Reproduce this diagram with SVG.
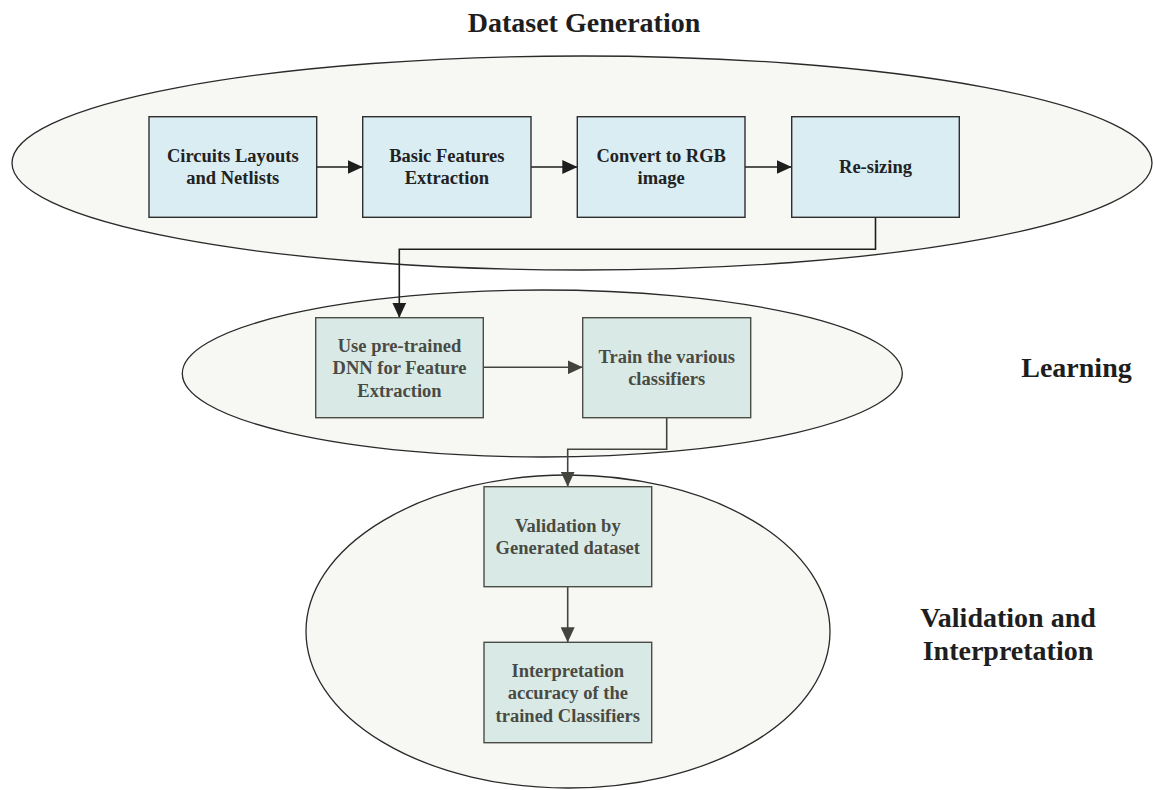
<svg xmlns="http://www.w3.org/2000/svg" width="1153" height="790" viewBox="0 0 1153 790">
<style>
.stage{fill:#f7f8f3;stroke:#2a2a2a;stroke-width:1.3}
.b1{fill:#daedf3;stroke:#2e2e2e;stroke-width:1.4}
.b2{fill:#d9eae6;stroke:#4c4c46;stroke-width:1.4}
.t1{font-family:"Liberation Serif","Times New Roman",serif;font-weight:bold;font-size:18.5px;fill:#222;text-anchor:middle}
.t2{font-family:"Liberation Serif","Times New Roman",serif;font-weight:bold;font-size:18.5px;fill:#4a4a44;text-anchor:middle}
.lab{font-family:"Liberation Serif","Times New Roman",serif;font-weight:bold;font-size:28px;fill:#1e1e1e;text-anchor:middle}
.c1{fill:none;stroke:#1e1e1e;stroke-width:1.6}
.c2{fill:none;stroke:#44443e;stroke-width:1.6}
</style>
<defs>
<marker id="ah1" markerUnits="userSpaceOnUse" markerWidth="15" markerHeight="14" viewBox="0 0 15 14" refX="15" refY="7" orient="auto"><path d="M0,0 L15,7 L0,14 z" fill="#1e1e1e"/></marker>
<marker id="ah2" markerUnits="userSpaceOnUse" markerWidth="15" markerHeight="14" viewBox="0 0 15 14" refX="15" refY="7" orient="auto"><path d="M0,0 L15,7 L0,14 z" fill="#44443e"/></marker>
</defs>
<rect width="1153" height="790" fill="#ffffff"/>
<g id="stages">
<ellipse class="stage" cx="582" cy="163" rx="570" ry="107"/>
<ellipse class="stage" cx="542.3" cy="373.5" rx="360" ry="83.5"/>
<ellipse class="stage" cx="568" cy="631.5" rx="262" ry="156.5"/>
</g>
<g id="labels">
<text class="lab" x="584" y="31.7">Dataset Generation</text>
<text class="lab" x="1076.5" y="377">Learning</text>
<text class="lab" x="1008" y="627">Validation and</text>
<text class="lab" x="1008" y="660">Interpretation</text>
</g>
<g id="connectors">
<path class="c1" d="M316.7,167 H362.7" marker-end="url(#ah1)"/>
<path class="c1" d="M531,167 H577.3" marker-end="url(#ah1)"/>
<path class="c1" d="M745,167 H791.7" marker-end="url(#ah1)"/>
<path class="c1" d="M875.5,217.3 V249.3 H399.3 V317.7" marker-end="url(#ah1)"/>
<path class="c2" d="M483.3,367.3 H582.7" marker-end="url(#ah2)"/>
<path class="c2" d="M666.7,417.7 V449.3 H567.7 V486.7" marker-end="url(#ah2)"/>
<path class="c2" d="M567.7,586.7 V642.3" marker-end="url(#ah2)"/>
</g>
<g id="n1"><rect class="b1" x="149" y="116.7" width="167.7" height="100.6"/><text class="t1" x="232.8" y="161.7">Circuits Layouts</text><text class="t1" x="232.8" y="184">and Netlists</text></g>
<g id="n2"><rect class="b1" x="362.7" y="116.7" width="168.3" height="100.6"/><text class="t1" x="446.8" y="161.7">Basic Features</text><text class="t1" x="446.8" y="184">Extraction</text></g>
<g id="n3"><rect class="b1" x="577.3" y="116.7" width="167.7" height="100.6"/><text class="t1" x="661.2" y="161.7">Convert to RGB</text><text class="t1" x="661.2" y="184">image</text></g>
<g id="n4"><rect class="b1" x="791.7" y="116.7" width="167.6" height="100.6"/><text class="t1" x="875.5" y="172.7">Re-sizing</text></g>
<g id="n5"><rect class="b2" x="315.7" y="317.7" width="167.6" height="100"/><text class="t2" x="399.5" y="351.7">Use pre-trained</text><text class="t2" x="399.5" y="374">DNN for Feature</text><text class="t2" x="399.5" y="396.7">Extraction</text></g>
<g id="n6"><rect class="b2" x="582.7" y="317.7" width="168" height="100"/><text class="t2" x="666.7" y="362.7">Train the various</text><text class="t2" x="666.7" y="385">classifiers</text></g>
<g id="n7"><rect class="b2" x="484" y="486.7" width="167.7" height="100"/><text class="t2" x="567.8" y="531.7">Validation by</text><text class="t2" x="567.8" y="554.3">Generated dataset</text></g>
<g id="n8"><rect class="b2" x="484" y="642.3" width="167.7" height="100.4"/><text class="t2" x="567.8" y="676.7">Interpretation</text><text class="t2" x="567.8" y="699.3">accuracy of the</text><text class="t2" x="567.8" y="721.7">trained Classifiers</text></g>
</svg>
